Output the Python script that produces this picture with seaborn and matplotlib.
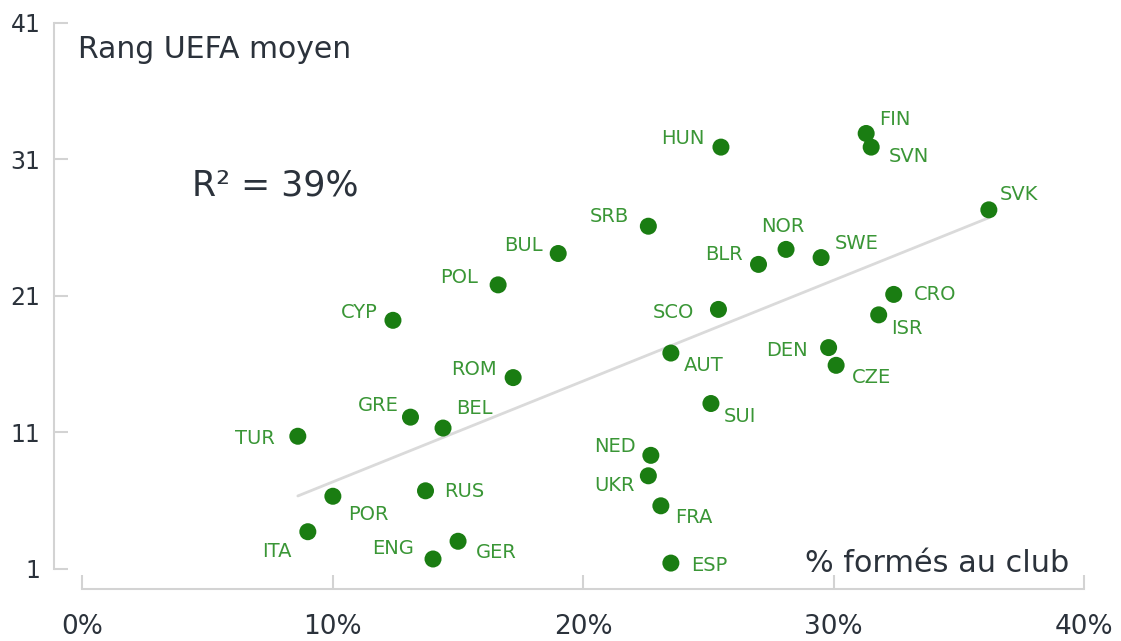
import numpy as np
import pandas as pd
import seaborn as sns
import matplotlib.pyplot as plt

# data: % of players trained at the club vs average UEFA rank
codes = ['FIN', 'SVN', 'HUN', 'SVK', 'SRB', 'BUL', 'NOR', 'SWE', 'BLR', 'POL',
         'CRO', 'SCO', 'ISR', 'CYP', 'DEN', 'AUT', 'CZE', 'ROM', 'SUI', 'GRE',
         'BEL', 'TUR', 'NED', 'UKR', 'RUS', 'POR', 'FRA', 'ITA', 'GER', 'ENG', 'ESP']
formes = [31.3, 31.5, 25.5, 36.2, 22.6, 19.0, 28.1, 29.5, 27.0, 16.6,
          32.4, 25.4, 31.8, 12.4, 29.8, 23.5, 30.1, 17.2, 25.1, 13.1,
          14.4, 8.6, 22.7, 22.6, 13.7, 10.0, 23.1, 9.0, 15.0, 14.0, 23.5]
rang = [32.9, 31.9, 31.9, 27.3, 26.1, 24.1, 24.4, 23.8, 23.3, 21.8,
        21.1, 20.0, 19.6, 19.2, 17.2, 16.8, 15.9, 15.0, 13.1, 12.1,
        11.3, 10.7, 9.3, 7.8, 6.7, 6.3, 5.6, 3.7, 3.0, 1.7, 1.4]

x_ticks = [0, 10, 20, 30, 40]
x_tick_labels = ['0%', '10%', '20%', '30%', '40%']
y_ticks = [1, 11, 21, 31, 41]

df = pd.DataFrame({'code': codes, 'formes': formes, 'rang': rang})

# label placement in pixels from the marker centre (y up), alignment
place = {
    'FIN': (13, 15, 'left'), 'SVN': (18, -8, 'left'), 'HUN': (-16, 10, 'right'),
    'SVK': (11, 16, 'left'), 'SRB': (-19, 11, 'right'), 'BUL': (-15, 9, 'right'),
    'NOR': (-3, 24, 'center'), 'SWE': (14, 15, 'left'), 'BLR': (-16, 11, 'right'),
    'POL': (-20, 8, 'right'), 'CRO': (20, 1, 'left'), 'SCO': (-24, -2, 'right'),
    'ISR': (12, -13, 'left'), 'CYP': (-15, 9, 'right'), 'DEN': (-21, -2, 'right'),
    'AUT': (13, -11, 'left'), 'CZE': (16, -11, 'left'), 'ROM': (-16, 9, 'right'),
    'SUI': (13, -12, 'left'), 'GRE': (-12, 13, 'right'), 'BEL': (13, 21, 'left'),
    'TUR': (-23, -1, 'right'), 'NED': (-15, 10, 'right'), 'UKR': (-14, -9, 'right'),
    'RUS': (19, 0, 'left'), 'POR': (15, -17, 'left'), 'FRA': (14, -11, 'left'),
    'ITA': (-16, -19, 'right'), 'GER': (18, -10, 'left'), 'ENG': (-19, 11, 'right'),
    'ESP': (20, -1, 'left'),
}

POINT = '#1a7d12'
LABEL = '#3a9636'
TEXT = '#2b323b'
AXIS = '#d3d3d3'

sns.set_style('white')
plt.rcParams['font.family'] = ['DejaVu Sans']

W, H = 1121, 641
fig = plt.figure(figsize=(W / 100, H / 100), dpi=100)
ax = fig.add_axes([53.5 / W, 52 / H, (1084 - 53.5) / W, (618 - 52) / H])

sns.regplot(data=df, x='formes', y='rang', scatter=False, ci=None, truncate=True,
            color='#dadada', line_kws={'lw': 2, 'zorder': 1}, ax=ax)
sns.scatterplot(data=df, x='formes', y='rang', s=150, color=POINT, edgecolor='none',
                zorder=3, legend=False, ax=ax)

for c, xv, yv in zip(codes, formes, rang):
    dx, dy, ha = place[c]
    ax.annotate(c, (xv, yv), xytext=(dx, dy - 6.5), textcoords='offset pixels',
                ha=ha, va='baseline', fontsize=14, color=LABEL)

ax.set_xlim(-1.158, 40)
ax.set_ylim(-0.5, 41)
ax.set_xticks(x_ticks)
ax.set_xticklabels(x_tick_labels)
ax.set_yticks(y_ticks)
ax.set_xlabel('')
ax.set_ylabel('')

sns.despine(ax=ax)
ax.spines['left'].set_bounds(1, 41)
ax.spines['bottom'].set_bounds(0, 40)
for s in ['left', 'bottom']:
    ax.spines[s].set_color(AXIS)
    ax.spines[s].set_linewidth(1.5)

ax.tick_params(axis='y', left=True, direction='in', length=10, width=1.5, color=AXIS,
               pad=9.5, labelsize=17, labelcolor=TEXT)
ax.tick_params(axis='x', bottom=True, direction='in', length=10, width=1.5, color=AXIS,
               pad=18, labelsize=19, labelcolor=TEXT)

fig.text(78 / W, (H - 58) / H, 'Rang UEFA moyen', ha='left', va='baseline',
         fontsize=21.5, color=TEXT)
fig.text(192 / W, (H - 195) / H, 'R² = 39%', ha='left', va='baseline',
         fontsize=25, color=TEXT)
fig.text(1069 / W, (H - 572) / H, '% formés au club', ha='right', va='baseline',
         fontsize=21.8, color=TEXT)

fig.savefig('out.png', dpi=100)
